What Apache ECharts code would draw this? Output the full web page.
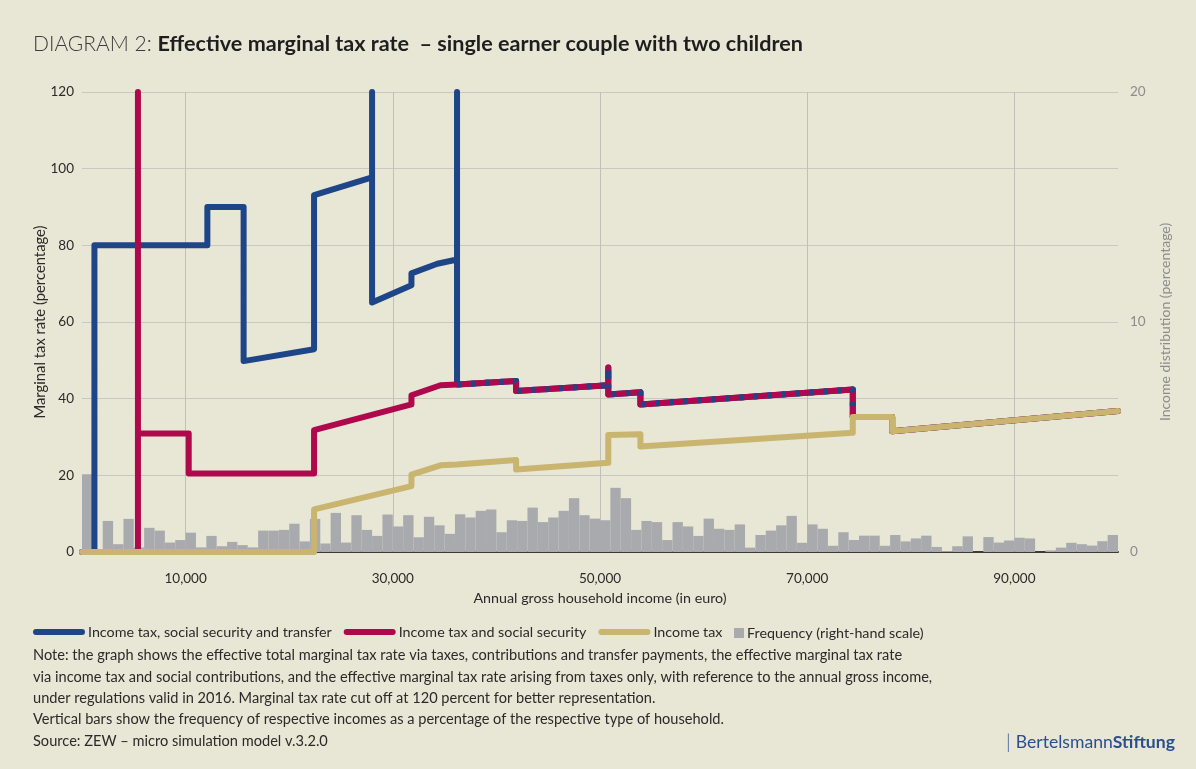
<!DOCTYPE html>
<html>
<head>
<meta charset="utf-8">
<script src="https://cdn.jsdelivr.net/npm/echarts@6/dist/echarts.min.js"></script>
<style>
  html, body { margin: 0; padding: 0; background: #e8e6d4; }
  #chart { width: 1196px; height: 769px; }
</style>
</head>
<body>
<div id="chart"></div>
<script>
// Effective marginal tax rate, single earner couple with two children (ZEW, 2016)

// step lines: income in euro / marginal rate in percent
const blueIncome = [0, 1200, 1200, 12100, 12100, 15600, 15600, 22400, 22400, 28000, 28000, 28000, 31800, 31800, 34300, 36200, 36200, 36200, 41900, 41900, 50800, 50800, 50800, 53900, 53900, 74400, 74400, 78200, 78200, 100000];
const blueRate   = [0, 0, 80, 80, 90, 90, 49.8, 52.9, 93.1, 97.7, 120, 65.1, 69.6, 72.7, 75.2, 76.3, 120, 43.7, 44.6, 42.0, 43.5, 48.1, 41.1, 41.7, 38.5, 42.4, 35.2, 35.2, 31.5, 36.8];

const redIncome = [0, 5400, 5400, 5400, 10300, 10300, 22400, 22400, 31800, 31800, 34600, 36200, 41900, 41900, 50800, 50800, 50800, 53900, 53900, 74400, 74400, 78200, 78200, 100000];
const redRate   = [0, 0, 120, 30.9, 30.9, 20.5, 20.5, 31.8, 38.5, 40.9, 43.5, 43.7, 44.6, 42.0, 43.5, 48.1, 41.1, 41.7, 38.5, 42.4, 35.2, 35.2, 31.5, 36.8];

const yellowIncome = [0, 22400, 22400, 31800, 31800, 34600, 36200, 41900, 41900, 50800, 50800, 53900, 53900, 74400, 74400, 78200, 78200, 100000];
const yellowRate   = [0, 0, 11.1, 17.2, 20.2, 22.6, 22.8, 24.0, 21.5, 23.3, 30.5, 30.7, 27.5, 31.1, 35.2, 35.2, 31.5, 36.8];

// part where the blue line runs on top of the red one (drawn dashed)
const overlapFrom = 17;
const overlapTo = 27;

// frequency per 1,000 euro bin, percent of households
const binWidth = 1000;
const freq = [
  3.38, 0, 1.35, 0.34, 1.44, 0.2, 1.05, 0.93, 0.41, 0.52,
  0.84, 0.2, 0.7, 0.25, 0.44, 0.3, 0.2, 0.93, 0.93, 0.96,
  1.23, 0.46, 1.44, 0.37, 1.70, 0.41, 1.60, 0.96, 0.70, 1.63,
  1.11, 1.60, 0.64, 1.53, 1.16, 0.79, 1.64, 1.50, 1.79, 1.85,
  0.86, 1.38, 1.35, 1.93, 1.30, 1.50, 1.79, 2.34, 1.60, 1.45,
  1.38, 2.79, 2.34, 0.96, 1.35, 1.30, 0.52, 1.30, 1.11, 0.70,
  1.45, 1.01, 0.96, 1.20, 0.19, 0.74, 0.93, 1.16, 1.57, 0.40,
  1.20, 1.01, 0.27, 0.86, 0.52, 0.71, 0.71, 0.27, 0.74, 0.46,
  0.59, 0.71, 0.22, 0.04, 0.25, 0.68, 0, 0.65, 0.41, 0.50,
  0.62, 0.59, 0, 0.07, 0.19, 0.40, 0.34, 0.28, 0.47, 0.74
];

const xTicks = [10000, 30000, 50000, 70000, 90000];

const noteLines = [
  'Note: the graph shows the effective total marginal tax rate via taxes, contributions and transfer payments, the effective marginal tax rate',
  'via income tax and social contributions, and the effective marginal tax rate arising from taxes only, with reference to the annual gross income,',
  'under regulations valid in 2016. Marginal tax rate cut off at 120 percent for better representation.',
  'Vertical bars show the frequency of respective incomes as a percentage of the respective type of household.',
  'Source: ZEW – micro simulation model v.3.2.0'
];

const names = {
  blue: 'Income tax, social security and transfer',
  red: 'Income tax and social security',
  yellow: 'Income tax',
  freq: 'Frequency (right-hand scale)'
};

const zip = (xs, ys) => xs.map((x, i) => [x, ys[i]]);
const histData = freq.map((v, i) => [i * binWidth, (i + 1) * binWidth, v]);

const font = 'Lato';
const pill = 'path://M3,0 H49 A3,3 0 0 1 49,6 H3 A3,3 0 0 1 3,0 Z';
const lineW = 6;

const lineSeries = (name, data, color, z, extra) => Object.assign({
  name: name,
  type: 'line',
  data: data,
  showSymbol: false,
  clip: false,
  z: z,
  color: color,
  lineStyle: { width: lineW, color: color, cap: 'round', join: 'round' },
  emphasis: { disabled: true }
}, extra || {});

let chart = echarts.init(document.getElementById('chart'));

let option = {
  backgroundColor: '#e8e6d4',
  animation: false,
  textStyle: { fontFamily: font },
  title: {
    text: '{a|DIAGRAM 2: }{b|Effective marginal tax rate  – single earner couple with two children}',
    left: 33,
    top: 33,
    padding: 0,
    textStyle: {
      rich: {
        a: { fontFamily: font, fontSize: 21, fontWeight: 300, color: '#3c3c3c' },
        b: { fontFamily: font, fontSize: 21.6, fontWeight: 'bold', color: '#1e1e1e' }
      }
    }
  },
  legend: [
    {
      left: 33,
      top: 625,
      padding: 0,
      itemWidth: 52,
      itemHeight: 6,
      itemGap: 12,
      textStyle: { fontFamily: font, fontSize: 14.3, color: '#2a2a2a', padding: [0, 0, 0, -2] },
      data: [
        { name: names.blue, icon: pill },
        { name: names.red, icon: pill },
        { name: names.yellow, icon: pill }
      ]
    },
    {
      left: 734,
      top: 626,
      padding: 0,
      itemWidth: 10,
      itemHeight: 10,
      textStyle: { fontFamily: font, fontSize: 14.3, color: '#2a2a2a', padding: [0, 0, 0, -2] },
      data: [{ name: names.freq, icon: 'rect' }]
    }
  ],
  grid: { left: 82, top: 92, width: 1036, height: 460 },
  xAxis: {
    type: 'value',
    min: 0,
    max: 100000,
    name: 'Annual gross household income (in euro)',
    nameLocation: 'middle',
    nameGap: 37,
    nameTextStyle: { fontFamily: font, fontSize: 14.3, color: '#2a2a2a' },
    axisLine: { show: true, lineStyle: { color: '#3a3a3a', width: 2 } },
    axisTick: { show: false, customValues: xTicks },
    axisLabel: {
      customValues: xTicks,
      margin: 20,
      fontFamily: font,
      fontSize: 13.5,
      color: '#2a2a2a',
      formatter: v => v.toLocaleString('en-US')
    },
    splitLine: { show: true, lineStyle: { color: '#bfbfbc', width: 1 } }
  },
  yAxis: [
    {
      type: 'value',
      min: 0,
      max: 120,
      interval: 20,
      name: 'Marginal tax rate (percentage)',
      nameLocation: 'middle',
      nameGap: 34,
      nameMoveOverlap: false,
      nameTextStyle: { fontFamily: font, fontSize: 14.8, color: '#2a2a2a' },
      axisLine: { show: false },
      axisTick: { show: false },
      axisLabel: { margin: 8, fontFamily: font, fontSize: 13.5, color: '#2a2a2a' },
      splitLine: { lineStyle: { color: '#c8c8c2', width: 1 } }
    },
    {
      type: 'value',
      min: 0,
      max: 20,
      interval: 10,
      name: 'Income distribution (percentage)',
      nameLocation: 'middle',
      nameGap: 40,
      nameTextStyle: { fontFamily: font, fontSize: 14, color: '#8c8c8c' },
      axisLine: { show: false },
      axisTick: { show: false },
      axisLabel: { margin: 12, fontFamily: font, fontSize: 13.5, color: '#8c8c8c' },
      splitLine: { show: false }
    }
  ],
  series: [
    {
      name: names.freq,
      type: 'custom',
      yAxisIndex: 1,
      z: 1,
      color: '#a9aaae',
      data: histData,
      encode: { x: [0, 1], y: 2 },
      renderItem: function (params, api) {
        let top = api.coord([api.value(0), api.value(2)]);
        let base = api.coord([api.value(1), 0]);
        return {
          type: 'rect',
          shape: { x: top[0], y: top[1], width: base[0] - top[0], height: base[1] - top[1] },
          style: { fill: '#a9aaae' }
        };
      }
    },
    lineSeries(names.blue, zip(blueIncome, blueRate), '#1d4587', 3),
    lineSeries(names.red, zip(redIncome, redRate), '#b0084c', 4),
    lineSeries(names.blue,
      zip(blueIncome.slice(overlapFrom, overlapTo), blueRate.slice(overlapFrom, overlapTo)),
      '#1d4587', 5,
      { lineStyle: { width: lineW, color: '#1d4587', type: [4, 10], dashOffset: 0, cap: 'butt', join: 'round' } }),
    lineSeries(names.yellow, zip(yellowIncome, yellowRate), '#c9b570', 6)
  ],
  graphic: [
    {
      type: 'text',
      left: 33,
      top: 645,
      style: {
        text: noteLines.join('\n'),
        font: '14.6px Lato',
        lineHeight: 21.3,
        fill: '#2a2a2a'
      }
    },
    {
      type: 'text',
      right: 21,
      top: 733,
      style: {
        text: '{bar|| }{a|Bertelsmann}{b|Stiftung}',
        rich: {
          bar: { fontFamily: font, fontSize: 19, fontWeight: 300, fill: '#2b4f8e' },
          a: { fontFamily: font, fontSize: 17.6, fill: '#2b4f8e' },
          b: { fontFamily: font, fontSize: 17.6, fontWeight: 'bold', fill: '#2b4f8e' }
        }
      }
    }
  ]
};

chart.setOption(option);
</script>
</body>
</html>
